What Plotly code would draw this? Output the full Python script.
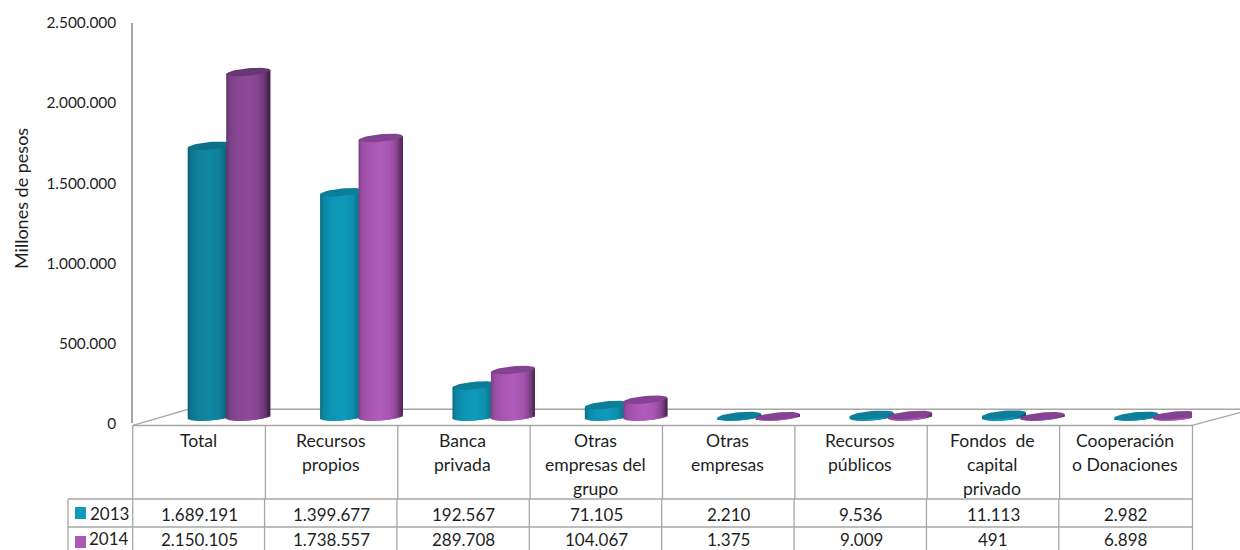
import math
import plotly.graph_objects as go

categories = ["Total", "Recursos\npropios", "Banca\nprivada", "Otras\nempresas del\ngrupo", "Otras\nempresas",
              "Recursos\npúblicos", "Fondos  de\ncapital\nprivado", "Cooperación\no Donaciones"]
values_2013 = [1689191, 1399677, 192567, 71105, 2210, 9536, 11113, 2982]
values_2014 = [2150105, 1738557, 289708, 104067, 1375, 9009, 491, 6898]
series_names = ["2013", "2014"]
y_ticks = [0, 500000, 1000000, 1500000, 2000000, 2500000]
y_title = "Millones de pesos"

W, H = 1240, 550
X0, X1 = 133.0, 1192.0
Y0, YT = 423.4, 23.0
CATW = (X1 - X0) / len(categories)
PX_Y = 2500000 / (Y0 - YT)
GRID = "#a6a6a6"
TXT = "#1f1f1f"
FONT = "Lato"

body_2013 = ["#1088a4", "#0f9bbd", "#0f9bbd", "#0f9bbd", "#0f9bbd", "#0f9bbd", "#0f9bbd", "#0f9bbd"]
body_2014 = ["#8e4a9a", "#b25bbc", "#b25bbc", "#b25bbc", "#b25bbc", "#b25bbc", "#b25bbc", "#b25bbc"]
cap_2013 = ["#0d7189", "#0d7d99", "#0d7d99", "#0d7d99", "#0d7d99", "#0d7d99", "#0d7d99", "#0d7d99"]
cap_2014 = ["#6a3573", "#834390", "#834390", "#834390", "#834390", "#834390", "#834390", "#834390"]
key_colors = ["#0f9bbd", "#ae57b8"]

A_PX, B_PX, TILT_PX, LIFT_PX = 22.0, 3.8, 2.0, 7.0
OFFS_PX = [10.5, 49.0]
NSTRIP = 30
shade_pts = [(-1, .70), (-.85, .86), (-.5, .95), (0, 1.0), (.45, .93), (.7, .78), (.88, .58), (1, .42)]


def shade(u):
    for (a, fa), (b, fb) in zip(shade_pts, shade_pts[1:]):
        if u <= b:
            return fa + (fb - fa) * (u - a) / (b - a)
    return shade_pts[-1][1]


def mix(hexcol, f):
    r, g, b = (int(hexcol[i:i + 2], 16) for i in (1, 3, 5))
    return f"rgb({r * f:.0f},{g * f:.0f},{b * f:.0f})"


fig = go.Figure()
dx = A_PX / CATW
lift = LIFT_PX * PX_Y
bb = B_PX * PX_Y
tilt = TILT_PX * PX_Y

all_series = [(values_2013, body_2013, cap_2013, "x", "y"), (values_2014, body_2014, cap_2014, "x2", "y2")]
for s, (vals, body, cap, xa, ya) in enumerate(all_series):
    off = OFFS_PX[s] / CATW
    for k in range(NSTRIP):
        sw = 2 / NSTRIP
        left = -1 + k * sw
        span = min(3 * sw, 1 - left)
        u = left + sw / 2
        low = [lift + tilt * u - bb * math.sqrt(1 - u * u)] * len(vals)
        top = [v + lift + tilt * u for v in vals]
        fig.add_bar(
            x=[i + .5 + off + (left + span / 2) * dx for i in range(len(vals))],
            base=low,
            y=[t - l for t, l in zip(top, low)],
            width=dx * span,
            marker=dict(color=[mix(c, shade(u)) for c in body], line_width=0),
            hoverinfo="skip", showlegend=False, xaxis=xa, yaxis=ya,
        )
    for i, v in enumerate(vals):
        ts = [2 * math.pi * t / 48 for t in range(49)]
        fig.add_scatter(
            x=[i + .5 + off + dx * math.cos(t) for t in ts],
            y=[v + lift + tilt * math.cos(t) + bb * math.sin(t) for t in ts],
            mode="lines", fill="toself", fillcolor=cap[i], line=dict(width=0, color=cap[i]),
            hoverinfo="skip", showlegend=False, xaxis=xa, yaxis=ya,
        )


def px(x):
    return x / W


def py(y):
    return 1 - y / H


def seg(x0, y0, x1, y1, w=1.3, layer="above"):
    return dict(type="line", xref="paper", yref="paper", x0=px(x0), y0=py(y0), x1=px(x1), y1=py(y1),
                line=dict(color=GRID, width=w), layer=layer)


shapes = [
    seg(133, 425.4, 1192, 425.4, 1.5, "below"),
    seg(133, 425.4, 188, 409.3, 1.3, "below"),
    seg(188, 409.3, 1240, 409.3, 1.5, "below"),
    seg(1192, 425.4, 1240, 412.7, 1.3, "below"),
    seg(68, 499, 1192.5, 499),
    seg(68, 527, 1192.5, 527),
    seg(68, 499, 68, 552),
    seg(132.7, 425, 132.7, 552),
    seg(1192.5, 425, 1192.5, 552),
]
for i in range(1, len(categories)):
    xc = X0 + CATW * i
    shapes.append(seg(xc, 425, xc, 499))
    shapes.append(seg(xc - 0.8, 499, xc - 0.8, 552))
for r, col in enumerate(key_colors):
    yy = 507 + 29 * r
    shapes.append(dict(type="rect", xref="paper", yref="paper", x0=px(75), x1=px(86), y0=py(yy), y1=py(yy + 12),
                       fillcolor=col, line_width=0))


def label(x, y, text, size=17.6, **kw):
    return dict(xref="paper", yref="paper", x=px(x), y=py(y), text=text, showarrow=False,
                xanchor="center", yanchor="middle", font=dict(family=FONT, size=size, color=TXT), **kw)


ann = []
for i, cat in enumerate(categories):
    for j, line in enumerate(cat.split("\n")):
        ann.append(label(X0 + CATW * (i + .5) - 1, 441 + 23.8 * j, line))
fmt = lambda v: f"{v:,}".replace(",", ".")
for r, vals in enumerate([values_2013, values_2014]):
    yy = 514 + 25.2 * r
    ann.append(label(109, yy - 0.5, series_names[r], size=17))
    for i, v in enumerate(vals):
        ann.append(label(X0 + CATW * (i + .5), yy, fmt(v), size=17))
ann.append(label(21, 199, y_title, size=18, textangle=-90))

hidden_x = dict(domain=[px(X0), px(X1)], range=[0, len(categories)], visible=False, fixedrange=True, automargin=False)
fig.update_layout(
    width=W, height=H, margin=dict(l=0, r=0, t=0, b=0), paper_bgcolor="white", plot_bgcolor="rgba(0,0,0,0)",
    barmode="overlay", showlegend=False, shapes=shapes, annotations=ann,
    font=dict(family=FONT, color=TXT),
    xaxis=hidden_x,
    xaxis2=dict(hidden_x, overlaying="x"),
    yaxis=dict(domain=[py(Y0), py(YT)], range=[0, 2500000], tickvals=y_ticks, ticktext=[fmt(v) for v in y_ticks],
               automargin=False, showgrid=False, zeroline=False, showline=True, linecolor=GRID, linewidth=1.5,
               ticks="outside", ticklen=12, tickcolor="rgba(0,0,0,0)",
               tickfont=dict(family=FONT, size=15.4, color=TXT), fixedrange=True),
    yaxis2=dict(domain=[py(Y0), py(YT)], range=[0, 2500000], overlaying="y", visible=False, fixedrange=True,
                automargin=False),
)
fig.write_html("out.html", config=dict(displayModeBar=False),
               post_script="document.body.style.margin='0';document.body.style.overflow='hidden';")
